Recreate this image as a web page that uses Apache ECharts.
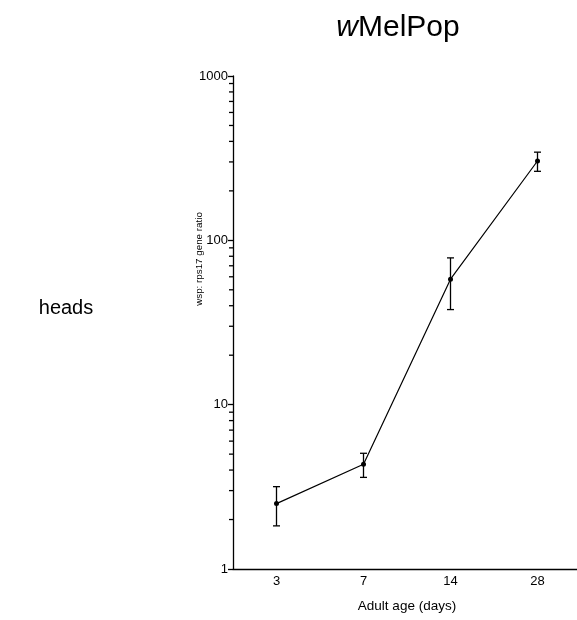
<!DOCTYPE html>
<html>
<head>
<meta charset="utf-8">
<script src="https://cdn.jsdelivr.net/npm/echarts@6/dist/echarts.min.js"></script>
<style>
  html, body { margin: 0; padding: 0; background: #fff; }
  #chart { width: 577px; height: 620px; }
</style>
</head>
<body>
<div id="chart"></div>
<script>
// Adult age (days) at sampling
const days = ['3', '7', '14', '28'];
// wsp : rps17 gene ratio, mean with lower / upper error limits
const ratioMean = [2.5, 4.34, 58, 304];
const ratioLow = [1.83, 3.61, 37.9, 263];
const ratioHigh = [3.17, 5.06, 78.2, 344];
// Log-axis minor tick positions (2..9 in each decade)
const minorTicks = [2, 3, 4, 5, 6, 7, 8, 9,
                    20, 30, 40, 50, 60, 70, 80, 90,
                    200, 300, 400, 500, 600, 700, 800, 900];

const FONT = 'Arial, "Liberation Sans", Helvetica, sans-serif';
const chart = echarts.init(document.getElementById('chart'), null, { renderer: 'canvas' });

const errorData = days.map((d, i) => [i, ratioLow[i], ratioHigh[i]]);

chart.setOption({
  backgroundColor: '#fff',
  animation: false,
  grid: { left: 233, top: 76, width: 348, height: 493, containLabel: false, outerBoundsMode: 'none' },
  xAxis: {
    type: 'category',
    data: days,
    boundaryGap: true,
    axisLine: { lineStyle: { color: '#000', width: 1.3 } },
    axisTick: { alignWithLabel: true, length: 5, lineStyle: { color: '#000', width: 1.3 } },
    axisLabel: { color: '#000', fontSize: 13, fontFamily: FONT, margin: 6 },
    name: 'Adult age (days)',
    nameLocation: 'middle',
    nameGap: 30,
    nameTextStyle: { color: '#000', fontSize: 13.5, fontFamily: FONT },
    splitLine: { show: false }
  },
  yAxis: {
    type: 'log',
    logBase: 10,
    min: 1,
    max: 1000,
    axisLine: { show: true, lineStyle: { color: '#000', width: 1.3 } },
    axisTick: { show: true, length: 5, lineStyle: { color: '#000', width: 1.3 } },
    axisLabel: {
      color: '#000', fontSize: 13, fontFamily: FONT, margin: 5,
      formatter: v => String(Math.round(v))
    },
    splitLine: { show: false }
  },
  graphic: [
    {
      type: 'text', x: 398, y: 28,
      style: {
        text: '{i|w}MelPop',
        align: 'center', verticalAlign: 'middle',
        fontSize: 30, fontFamily: FONT, fill: '#000',
        rich: { i: { fontStyle: 'italic', fontSize: 30, fontFamily: FONT, fill: '#000' } }
      }
    },
    {
      type: 'text', x: 66, y: 308,
      style: { text: 'heads', align: 'center', verticalAlign: 'middle', fontSize: 20, fontFamily: FONT, fill: '#000' }
    },
    {
      type: 'text', x: 199, y: 259, rotation: Math.PI / 2,
      style: { text: 'wsp: rps17 gene ratio', align: 'center', verticalAlign: 'middle', fontSize: 9.8, fontFamily: FONT, fill: '#000' }
    }
  ],
  series: [
    {
      type: 'custom',
      name: 'minor ticks',
      silent: true,
      clip: false,
      data: minorTicks.map(v => [0, v]),
      renderItem: function (params, api) {
        const p = api.coord([0, api.value(1)]);
        const x0 = params.coordSys.x;
        return {
          type: 'line',
          shape: { x1: x0 - 4, y1: p[1], x2: x0, y2: p[1] },
          style: { stroke: '#000', lineWidth: 1.3 }
        };
      }
    },
    {
      type: 'custom',
      name: 'error',
      silent: true,
      clip: false,
      data: errorData,
      renderItem: function (params, api) {
        const lo = api.coord([api.value(0), api.value(1)]);
        const hi = api.coord([api.value(0), api.value(2)]);
        const cap = 3.5;
        const st = { stroke: '#000', lineWidth: 1.3 };
        return {
          type: 'group',
          children: [
            { type: 'line', shape: { x1: lo[0], y1: lo[1], x2: hi[0], y2: hi[1] }, style: st },
            { type: 'line', shape: { x1: lo[0] - cap, y1: lo[1], x2: lo[0] + cap, y2: lo[1] }, style: st },
            { type: 'line', shape: { x1: hi[0] - cap, y1: hi[1], x2: hi[0] + cap, y2: hi[1] }, style: st }
          ]
        };
      }
    },
    {
      type: 'line',
      name: 'wMelPop',
      data: ratioMean,
      symbol: 'circle',
      symbolSize: 5,
      itemStyle: { color: '#000' },
      lineStyle: { color: '#000', width: 1.2 },
      z: 5
    }
  ]
});
</script>
</body>
</html>
